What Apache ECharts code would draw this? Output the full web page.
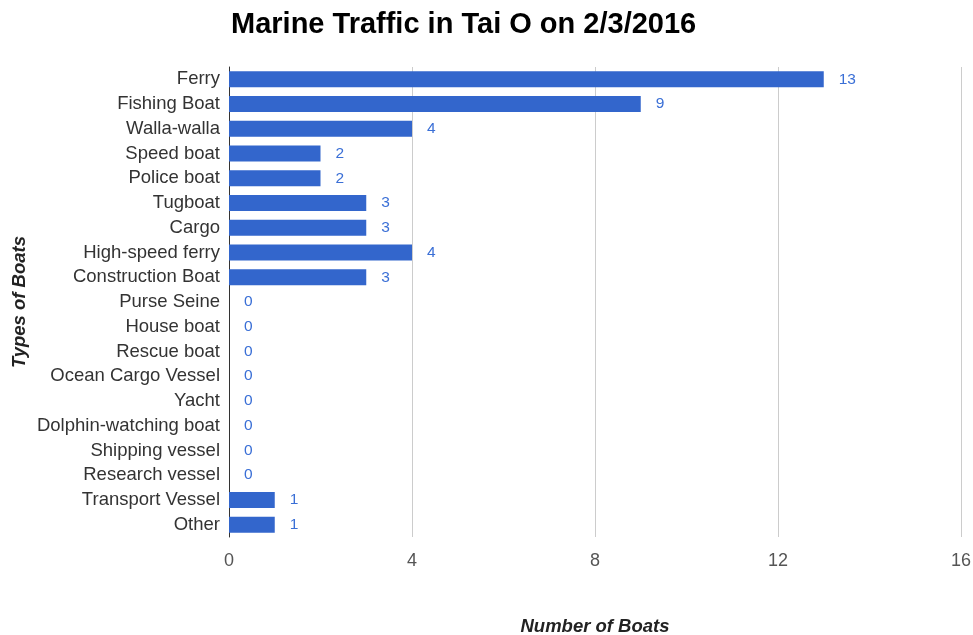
<!DOCTYPE html>
<html>
<head>
<meta charset="utf-8">
<script src="https://cdn.jsdelivr.net/npm/echarts@6/dist/echarts.min.js"></script>
<style>
  html, body { margin: 0; padding: 0; background: #fff; overflow: hidden; }
  #chart { width: 973px; height: 635px; }
</style>
</head>
<body>
<div id="chart"></div>
<script>
// Boat categories, top to bottom
const boatTypes = [
  'Ferry', 'Fishing Boat', 'Walla-walla', 'Speed boat', 'Police boat',
  'Tugboat', 'Cargo', 'High-speed ferry', 'Construction Boat', 'Purse Seine',
  'House boat', 'Rescue boat', 'Ocean Cargo Vessel', 'Yacht',
  'Dolphin-watching boat', 'Shipping vessel', 'Research vessel',
  'Transport Vessel', 'Other'
];
// Count of boats observed per category
const boatCounts = [13, 9, 4, 2, 2, 3, 3, 4, 3, 0, 0, 0, 0, 0, 0, 0, 0, 1, 1];

const FONT = 'Arial, "Liberation Sans", sans-serif';
const chart = echarts.init(document.getElementById('chart'), null, { renderer: 'canvas' });

chart.setOption({
  backgroundColor: '#ffffff',
  animation: false,
  title: {
    text: 'Marine Traffic in Tai O on 2/3/2016',
    left: 226,
    top: 5,
    textStyle: { fontFamily: FONT, fontSize: 29, fontWeight: 'bold', color: '#000' }
  },
  grid: { left: 229, right: 12, top: 67, bottom: 98, containLabel: false, outerBoundsMode: 'none' },
  xAxis: {
    type: 'value',
    min: 0,
    max: 16,
    interval: 4,
    name: 'Number of Boats',
    nameLocation: 'middle',
    nameGap: 80,
    nameMoveOverlap: false,
    nameTextStyle: { fontFamily: FONT, fontSize: 18.5, fontWeight: 'bold', fontStyle: 'italic', color: '#222' },
    axisLine: { show: false },
    axisTick: { show: false },
    axisLabel: { fontFamily: FONT, fontSize: 18, color: '#555', margin: 15, hideOverlap: false },
    splitLine: { lineStyle: { color: '#cccccc', width: 1 } }
  },
  yAxis: {
    type: 'category',
    data: boatTypes,
    inverse: true,
    name: 'Types of Boats',
    nameLocation: 'middle',
    nameGap: 200,
    nameMoveOverlap: false,
    nameRotate: 90,
    nameTextStyle: { fontFamily: FONT, fontSize: 18.5, fontWeight: 'bold', fontStyle: 'italic', color: '#222' },
    axisLine: { show: true, lineStyle: { color: '#333', width: 1 } },
    axisTick: { show: false },
    axisLabel: { fontFamily: FONT, fontSize: 18.5, color: '#333', margin: 9, interval: 0, hideOverlap: false }
  },
  series: [{
    type: 'bar',
    data: boatCounts,
    barWidth: 16,
    itemStyle: { color: '#3366cc' },
    label: {
      show: true,
      position: 'right',
      distance: 15,
      fontFamily: FONT,
      fontSize: 15.5,
      color: '#3a6fd6'
    }
  }]
});
</script>
</body>
</html>
